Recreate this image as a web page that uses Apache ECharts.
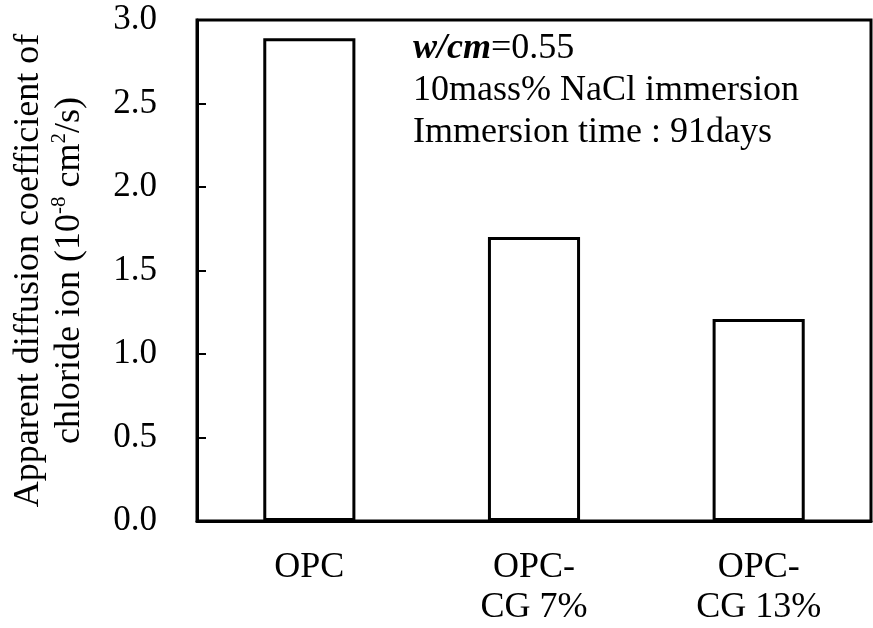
<!DOCTYPE html>
<html>
<head>
    <meta charset="utf-8" />
    <title>ECharts</title>
    <style>
        html, body { margin: 0; padding: 0; background: #fff; }
        #main { width: 873px; height: 628px; }
    </style>
    <script src="https://cdn.jsdelivr.net/npm/echarts@6/dist/echarts.min.js"></script>
</head>
<body>
    <div id="main"></div>
    <script type="text/javascript">
        // categories and values
        const categories = ['OPC', 'OPC-\nCG 7%', 'OPC-\nCG 13%'];
        const diffusion = [2.89, 1.70, 1.21];
        const yTicks = [0, 0.5, 1.0, 1.5, 2.0, 2.5, 3.0];

        const font = 'Liberation Serif';
        var myChart = echarts.init(document.getElementById('main'));
        var option = {
            animation: false,
            textStyle: { fontFamily: font, color: '#000' },
            grid: {
                left: 191, top: 20, right: 2, bottom: 105,
                show: true, borderColor: '#000', borderWidth: 3
            },
            xAxis: {
                type: 'category',
                data: categories,
                boundaryGap: true,
                axisLine: { lineStyle: { color: '#000', width: 3 } },
                axisTick: { inside: true, length: 10, lineStyle: { color: '#000', width: 2 } },
                axisLabel: {
                    fontFamily: font, fontSize: 36, color: '#000',
                    lineHeight: 40, margin: 27
                }
            },
            yAxis: {
                type: 'value',
                min: yTicks[0],
                max: yTicks[yTicks.length - 1],
                interval: 0.5,
                splitLine: { show: false },
                axisLine: { show: true, lineStyle: { color: '#000', width: 3 } },
                axisTick: { show: true, inside: true, length: 9, lineStyle: { color: '#000', width: 2 } },
                axisLabel: {
                    fontFamily: font, fontSize: 35, color: '#000', margin: 40,
                    formatter: v => v.toFixed(1)
                },
                name: 'Apparent diffusion coefficient of\nchloride ion (10{sup|-8} cm{sup|2}/s)',
                nameLocation: 'middle',
                nameGap: 107,
                nameTextStyle: {
                    fontFamily: font, fontSize: 36, color: '#000', lineHeight: 41,
                    rich: {
                        sup: { fontFamily: font, fontSize: 21, verticalAlign: 'top', lineHeight: 32, color: '#000' }
                    }
                }
            },
            graphic: [{
                type: 'text',
                left: 413, top: 28,
                style: {
                    text: '{b|w/cm}=0.55\n10mass% NaCl immersion\nImmersion time : 91days',
                    fontFamily: font, fontSize: 36, lineHeight: 42, fill: '#000',
                    rich: {
                        b: { fontFamily: font, fontSize: 36, fontWeight: 'bold', fontStyle: 'italic', lineHeight: 42 }
                    }
                }
            }],
            series: [{
                type: 'bar',
                data: diffusion,
                barWidth: '41%',
                itemStyle: { color: '#fff', borderColor: '#000', borderWidth: 3 }
            }]
        };
        myChart.setOption(option);
    </script>
</body>
</html>
